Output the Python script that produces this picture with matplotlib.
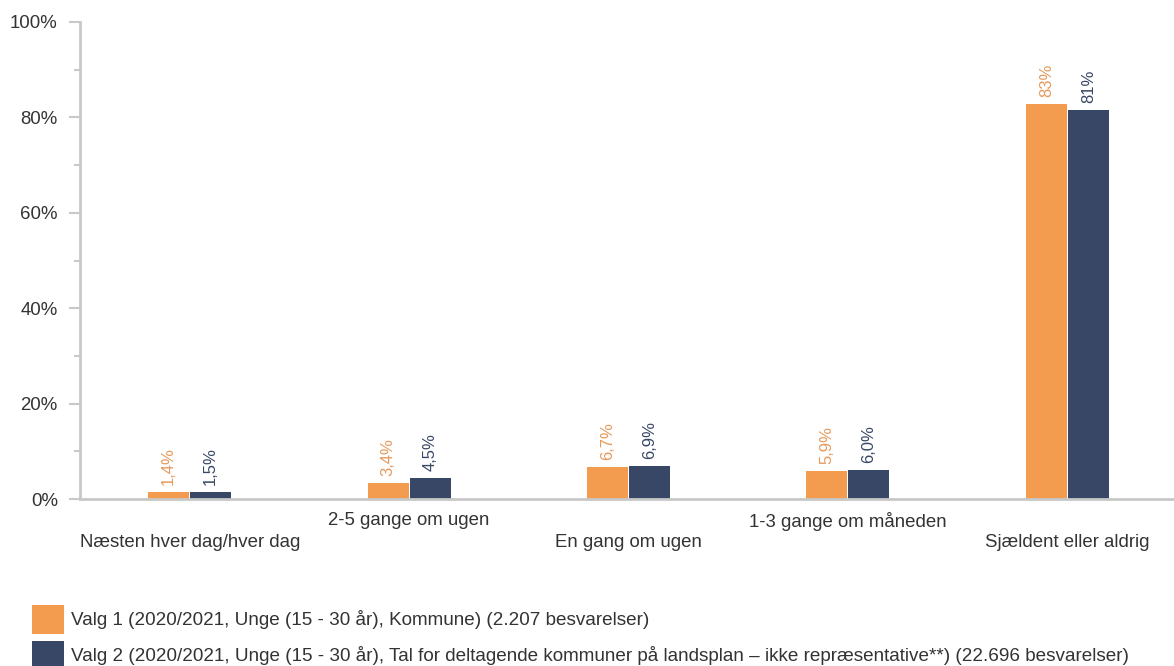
import matplotlib
matplotlib.use("Agg")
import matplotlib.pyplot as plt
import numpy as np
from matplotlib.patches import Patch

plt.rcParams['font.family'] = ['Liberation Sans', 'DejaVu Sans']

categories = ["Næsten hver dag/hver dag", "2-5 gange om ugen", "En gang om ugen",
              "1-3 gange om måneden", "Sjældent eller aldrig"]
valg1 = [1.4, 3.4, 6.7, 5.9, 82.8]
valg2 = [1.5, 4.5, 6.9, 6.0, 81.5]
labels1 = ["1,4%", "3,4%", "6,7%", "5,9%", "83%"]
labels2 = ["1,5%", "4,5%", "6,9%", "6,0%", "81%"]
series_names = ["Valg 1 (2020/2021, Unge (15 - 30 år), Kommune) (2.207 besvarelser)",
                "Valg 2 (2020/2021, Unge (15 - 30 år), Tal for deltagende kommuner på landsplan – ikke repræsentative**) (22.696 besvarelser)"]
yticks = [0, 20, 40, 60, 80, 100]
ytick_labels = ["0%", "20%", "40%", "60%", "80%", "100%"]

c1 = "#f39c4f"
c2 = "#374765"
t1 = "#e59a5c"
t2 = "#374765"
axis_col = "#c8c8c8"
txt = "#333333"

W, H = 1174, 666
fig = plt.figure(figsize=(W/100, H/100), dpi=100)
ax = fig.add_axes([80/W, 1-499/H, (1177-80)/W, (499-22)/H])

x = np.arange(len(categories))
bw = 0.187
b1 = ax.bar(x - bw/2 - 0.002, valg1, bw, color=c1, linewidth=0)
b2 = ax.bar(x + bw/2 + 0.002, valg2, bw, color=c2, linewidth=0)

for rect, lab in zip(b1, labels1):
    ax.annotate(lab, (rect.get_x() + rect.get_width()/2, rect.get_height()),
                xytext=(0, 5), textcoords="offset points", rotation=90,
                ha="center", va="bottom", color=t1, fontsize=12)
for rect, lab in zip(b2, labels2):
    ax.annotate(lab, (rect.get_x() + rect.get_width()/2, rect.get_height()),
                xytext=(0, 5), textcoords="offset points", rotation=90,
                ha="center", va="bottom", color=t2, fontsize=12)

ax.set_xlim(-0.5, 4.5)
ax.set_ylim(0, 100)
ax.set_yticks(yticks)
ax.set_yticklabels(ytick_labels, fontsize=13.4, color=txt)
ax.set_yticks(np.arange(10, 100, 20), minor=True)
ax.tick_params(axis='y', which='major', length=8, width=1.5, color=axis_col, pad=8)
ax.tick_params(axis='y', which='minor', length=4, width=1.5, color=axis_col)

ax.set_xticks(x)
ax.set_xticklabels([])
ax.tick_params(axis='x', length=0)
for i, cat in enumerate(categories):
    yoff = -0.073 if i % 2 == 0 else -0.027
    ax.text(i, yoff, cat, transform=ax.get_xaxis_transform(), ha="center", va="top",
            fontsize=13.4, color=txt)

for s in ["top", "right"]:
    ax.spines[s].set_visible(False)
for s in ["left", "bottom"]:
    ax.spines[s].set_color(axis_col)
    ax.spines[s].set_linewidth(2)

handles = [Patch(facecolor=c1, edgecolor='none'), Patch(facecolor=c2, edgecolor='none')]
fs = 13.6
fig.legend(handles, series_names, loc="upper left", bbox_to_anchor=(32/W, 1-605/H),
           frameon=False, fontsize=fs, handlelength=1.7, handleheight=1.98,
           handletextpad=0.38, labelspacing=0.37, borderpad=0, borderaxespad=0,
           labelcolor=txt)

fig.savefig("out.png", dpi=100)
